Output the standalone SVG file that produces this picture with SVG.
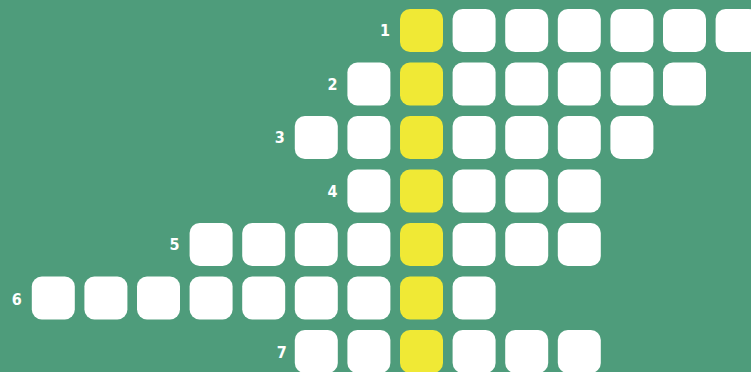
<svg xmlns="http://www.w3.org/2000/svg" width="751" height="372" viewBox="0 0 751 372">
<style>
.c{fill:#ffffff}
.y{fill:#f0e935}
.l{fill:#ffffff;font-family:"DejaVu Sans Condensed","Liberation Sans",sans-serif;font-weight:bold;font-size:16px;text-anchor:end}
</style>
<defs>
<rect id="cell" width="43" height="43" rx="10" ry="10"/>
</defs>
<rect width="751" height="372" fill="#4e9c7b"/>
<g id="row1">
<text class="l" x="390" y="36">1</text>
<use href="#cell" class="y" x="400" y="9"/>
<use href="#cell" class="c" x="452.6" y="9"/>
<use href="#cell" class="c" x="505.2" y="9"/>
<use href="#cell" class="c" x="557.8" y="9"/>
<use href="#cell" class="c" x="610.4" y="9"/>
<use href="#cell" class="c" x="663" y="9"/>
<use href="#cell" class="c" x="715.6" y="9"/>
</g>
<g id="row2">
<text class="l" x="337.4" y="89.5">2</text>
<use href="#cell" class="c" x="347.4" y="62.5"/>
<use href="#cell" class="y" x="400" y="62.5"/>
<use href="#cell" class="c" x="452.6" y="62.5"/>
<use href="#cell" class="c" x="505.2" y="62.5"/>
<use href="#cell" class="c" x="557.8" y="62.5"/>
<use href="#cell" class="c" x="610.4" y="62.5"/>
<use href="#cell" class="c" x="663" y="62.5"/>
</g>
<g id="row3">
<text class="l" x="284.8" y="143">3</text>
<use href="#cell" class="c" x="294.8" y="116"/>
<use href="#cell" class="c" x="347.4" y="116"/>
<use href="#cell" class="y" x="400" y="116"/>
<use href="#cell" class="c" x="452.6" y="116"/>
<use href="#cell" class="c" x="505.2" y="116"/>
<use href="#cell" class="c" x="557.8" y="116"/>
<use href="#cell" class="c" x="610.4" y="116"/>
</g>
<g id="row4">
<text class="l" x="337.4" y="196.5">4</text>
<use href="#cell" class="c" x="347.4" y="169.5"/>
<use href="#cell" class="y" x="400" y="169.5"/>
<use href="#cell" class="c" x="452.6" y="169.5"/>
<use href="#cell" class="c" x="505.2" y="169.5"/>
<use href="#cell" class="c" x="557.8" y="169.5"/>
</g>
<g id="row5">
<text class="l" x="179.6" y="250">5</text>
<use href="#cell" class="c" x="189.6" y="223"/>
<use href="#cell" class="c" x="242.2" y="223"/>
<use href="#cell" class="c" x="294.8" y="223"/>
<use href="#cell" class="c" x="347.4" y="223"/>
<use href="#cell" class="y" x="400" y="223"/>
<use href="#cell" class="c" x="452.6" y="223"/>
<use href="#cell" class="c" x="505.2" y="223"/>
<use href="#cell" class="c" x="557.8" y="223"/>
</g>
<g id="row6">
<text class="l" x="21.8" y="304.5">6</text>
<use href="#cell" class="c" x="31.8" y="276.5"/>
<use href="#cell" class="c" x="84.4" y="276.5"/>
<use href="#cell" class="c" x="137" y="276.5"/>
<use href="#cell" class="c" x="189.6" y="276.5"/>
<use href="#cell" class="c" x="242.2" y="276.5"/>
<use href="#cell" class="c" x="294.8" y="276.5"/>
<use href="#cell" class="c" x="347.4" y="276.5"/>
<use href="#cell" class="y" x="400" y="276.5"/>
<use href="#cell" class="c" x="452.6" y="276.5"/>
</g>
<g id="row7">
<text class="l" x="286.8" y="358">7</text>
<use href="#cell" class="c" x="294.8" y="330"/>
<use href="#cell" class="c" x="347.4" y="330"/>
<use href="#cell" class="y" x="400" y="330"/>
<use href="#cell" class="c" x="452.6" y="330"/>
<use href="#cell" class="c" x="505.2" y="330"/>
<use href="#cell" class="c" x="557.8" y="330"/>
</g>
<g id="connectors"/>
</svg>
